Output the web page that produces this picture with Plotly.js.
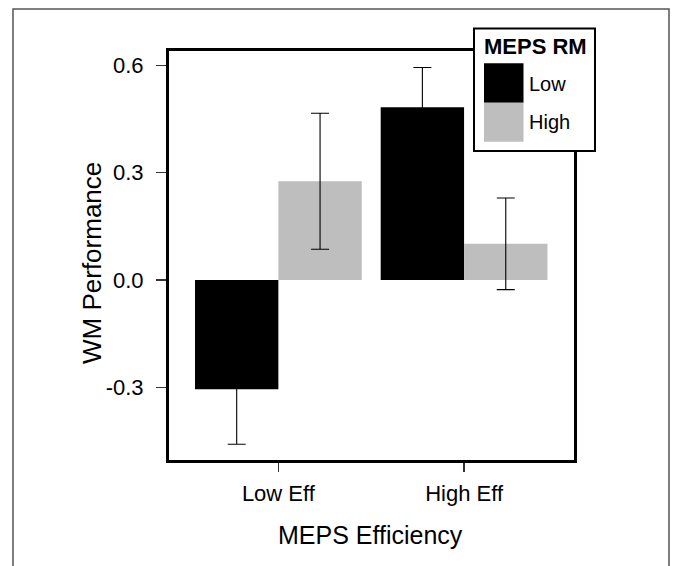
<!DOCTYPE html>
<html>
<head>
<meta charset="utf-8">
<script src="https://cdn.plot.ly/plotly-3.0.1.min.js"></script>
<style>html,body{margin:0;padding:0;background:#fff;}#chart{width:673px;height:566px;}</style>
</head>
<body>
<div id="chart"></div>
<script>
// ---- data ----
var categories = ["Low Eff", "High Eff"];
var seriesNames = ["Low", "High"];
var lowValues = [-0.305, 0.483];
var lowErrors = [0.154, 0.111];
var highValues = [0.276, 0.101];
var highErrors = [0.190, 0.128];
var yTickVals = [-0.3, 0.0, 0.3, 0.6];
var yTickText = ["-0.3", "0.0", "0.3", "0.6"];
var xTitle = "MEPS Efficiency";
var yTitle = "WM Performance";
var legendTitle = "MEPS RM";

// ---- layout geometry ----
var W = 673, H = 566;
var M = {l: 169, r: 99, t: 51, b: 106};
var PW = W - M.l - M.r, PH = H - M.t - M.b;
function px(x) { return (x - M.l) / PW; }
function py(y) { return (H - M.b - y) / PH; }

var FONT = "'Liberation Sans', Arial, sans-serif";
var colors = ["#000000", "#bebebe"];

var errStyle = {color: "#000000", thickness: 1.1, width: 9};
var traces = [
  {type: "bar", name: seriesNames[0], x: categories, y: lowValues,
   marker: {color: colors[0], line: {width: 0}},
   error_y: Object.assign({type: "data", array: lowErrors, visible: true}, errStyle)},
  {type: "bar", name: seriesNames[1], x: categories, y: highValues,
   marker: {color: colors[1], line: {width: 0}},
   error_y: Object.assign({type: "data", array: highErrors, visible: true}, errStyle)}
];

var shapes = [
  // outer figure border
  {type: "rect", xref: "paper", yref: "paper", x0: px(13), x1: px(669), y0: py(590), y1: py(9),
   line: {color: "#555555", width: 1.5}, fillcolor: "rgba(0,0,0,0)", layer: "below"},
  // legend box
  {type: "rect", xref: "paper", yref: "paper", x0: px(474), x1: px(595), y0: py(151), y1: py(28.5),
   line: {color: "#000000", width: 2}, fillcolor: "#ffffff", layer: "above"},
  {type: "rect", xref: "paper", yref: "paper", x0: px(484), x1: px(523.5), y0: py(102.7), y1: py(63.3),
   line: {width: 0}, fillcolor: colors[0], layer: "above"},
  {type: "rect", xref: "paper", yref: "paper", x0: px(484), x1: px(523.5), y0: py(141.7), y1: py(102.7),
   line: {width: 0}, fillcolor: colors[1], layer: "above"}
];

var annotations = [
  {text: yTitle, xref: "paper", yref: "paper", x: px(92), y: py(263), textangle: -90,
   showarrow: false, xanchor: "center", yanchor: "middle", font: {family: FONT, size: 26, color: "#000"}},
  {text: xTitle, xref: "paper", yref: "paper", x: px(370), y: py(535),
   showarrow: false, xanchor: "center", yanchor: "middle", font: {family: FONT, size: 25, color: "#000"}},
  {text: "<b>" + legendTitle + "</b>", xref: "paper", yref: "paper", x: px(535), y: py(46),
   showarrow: false, xanchor: "center", yanchor: "middle", font: {family: FONT, size: 22, color: "#000"}},
  {text: seriesNames[0], xref: "paper", yref: "paper", x: px(527), y: py(84),
   showarrow: false, xanchor: "left", yanchor: "middle", font: {family: FONT, size: 20, color: "#000"}},
  {text: seriesNames[1], xref: "paper", yref: "paper", x: px(527), y: py(122),
   showarrow: false, xanchor: "left", yanchor: "middle", font: {family: FONT, size: 20, color: "#000"}}
];

var layout = {
  width: W, height: H,
  margin: M,
  paper_bgcolor: "#ffffff", plot_bgcolor: "#ffffff",
  font: {family: FONT, size: 22, color: "#000"},
  barmode: "group", bargap: 0.102, bargroupgap: 0,
  showlegend: false,
  xaxis: {
    type: "category", range: [-0.589, 1.592], autorange: false,
    showline: true, linecolor: "#000", linewidth: 3, mirror: true,
    ticks: "outside", ticklen: 9, tickwidth: 1.2, tickcolor: "#333",
    showgrid: false, zeroline: false, ticklabelstandoff: 3,
    tickfont: {family: FONT, size: 22, color: "#000"}
  },
  yaxis: {
    range: [-0.503, 0.640], autorange: false,
    tickvals: yTickVals, ticktext: yTickText, tickmode: "array",
    showline: true, linecolor: "#000", linewidth: 3, mirror: true,
    ticks: "outside", ticklen: 10, tickwidth: 1.2, tickcolor: "#333",
    showgrid: false, zeroline: false, ticklabelstandoff: 8,
    tickfont: {family: FONT, size: 22, color: "#000"}
  },
  shapes: shapes,
  annotations: annotations
};

Plotly.newPlot("chart", traces, layout, {displayModeBar: false, staticPlot: true});
</script>
</body>
</html>
